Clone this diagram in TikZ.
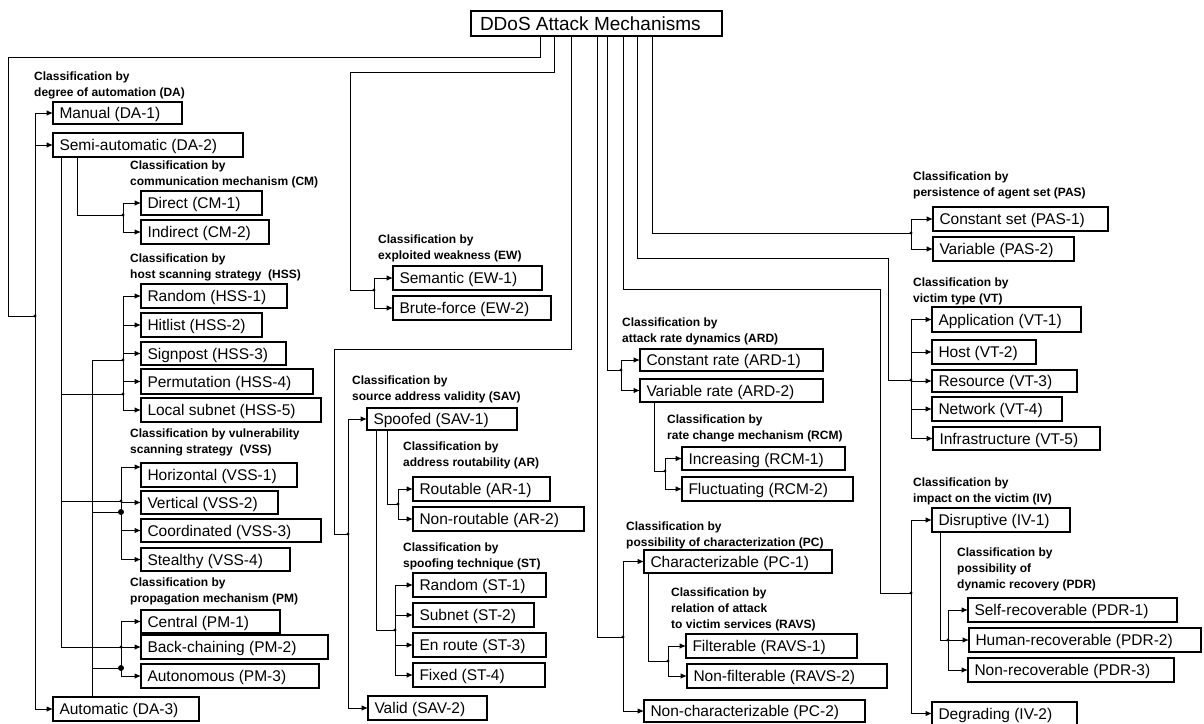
\documentclass[tikz,border=0pt]{standalone}
\usepackage{fontspec}
\setmainfont{Liberation Sans}
\usetikzlibrary{arrows.meta}
\tikzset{
 ln/.style={draw, line width=1pt},
 arr/.style={ln, -{Latex[length=6.5pt,width=5.5pt]}},
 bx/.style={draw, line width=1.3pt, inner xsep=6.5pt, inner ysep=0pt, outer sep=0pt, text height=11.1pt, text depth=0pt, font=\fontsize{15.5}{18}\selectfont},
 lbl/.style={anchor=north west, inner sep=0pt, align=left, font=\fontsize{12}{16}\selectfont\bfseries},
}
\newcommand\bx[6]{\node[bx, anchor=north west, minimum width={#4pt-#2pt}, minimum height={#5pt-#3pt}] (#1) at (#2,#3) {\makebox[\dimexpr #4pt-#2pt-13pt\relax][l]{#6}};}
\newcommand\sdot[1]{\fill (#1) circle (1.6pt);}
\newcommand\bdot[1]{\fill (#1) circle (3pt);}
\begin{document}
\begin{tikzpicture}[x=1pt,y=-1pt]
\useasboundingbox[fill=white] (0,0) rectangle (1204,723);
% title
\node[bx, anchor=north west, minimum width=251pt, minimum height=25pt, text height=13.6pt, inner xsep=9pt, font=\fontsize{19}{22}\selectfont] (title) at (471,11) {\makebox[233pt][l]{DDoS Attack Mechanisms}};
% boxes
\bx{manual}{53}{102}{182}{124}{Manual (DA-1)}
\bx{semi}{53}{133}{243}{157}{Semi-automatic (DA-2)}
\bx{auto}{53}{697}{199}{721}{Automatic (DA-3)}
\bx{direct}{141}{191}{262}{215}{Direct (CM-1)}
\bx{indirect}{141}{220}{269}{244}{Indirect (CM-2)}
\bx{hss1}{141}{284}{287}{308}{Random (HSS-1)}
\bx{hss2}{141}{313}{262}{337}{Hitlist (HSS-2)}
\bx{hss3}{141}{342}{286}{365}{Signpost (HSS-3)}
\bx{hss4}{141}{369}{313}{394}{Permutation (HSS-4)}
\bx{hss5}{141}{398}{321}{422}{Local subnet (HSS-5)}
\bx{vss1}{141}{463}{297}{487}{Horizontal (VSS-1)}
\bx{vss2}{141}{491}{278}{514}{Vertical (VSS-2)}
\bx{vss3}{141}{519}{321}{542}{Coordinated (VSS-3)}
\bx{vss4}{141}{548}{290}{571}{Stealthy (VSS-4)}
\bx{pm1}{141}{610}{280}{633}{Central (PM-1)}
\bx{pm2}{141}{635}{328}{659}{Back-chaining (PM-2)}
\bx{pm3}{141}{664}{319}{688}{Autonomous (PM-3)}
\bx{ew1}{393}{266}{542}{290}{Semantic (EW-1)}
\bx{ew2}{393}{296}{551}{320}{Brute-force (EW-2)}
\bx{sav1}{367}{408}{517}{430}{Spoofed (SAV-1)}
\bx{sav2}{368}{696}{487}{720}{Valid (SAV-2)}
\bx{ar1}{413}{477}{550}{501}{Routable (AR-1)}
\bx{ar2}{413}{507}{584}{531}{Non-routable (AR-2)}
\bx{st1}{413}{573}{546}{597}{Random (ST-1)}
\bx{st2}{413}{603}{534}{627}{Subnet (ST-2)}
\bx{st3}{413}{633}{546}{657}{En route (ST-3)}
\bx{st4}{413}{663}{545}{687}{Fixed (ST-4)}
\bx{ard1}{640}{349}{823}{371}{Constant rate (ARD-1)}
\bx{ard2}{640}{379}{823}{402}{Variable rate (ARD-2)}
\bx{rcm1}{682}{447}{845}{470}{Increasing (RCM-1)}
\bx{rcm2}{682}{477}{853}{501}{Fluctuating (RCM-2)}
\bx{pc1}{644}{550}{832}{573}{Characterizable (PC-1)}
\bx{ravs1}{686}{634}{857}{658}{Filterable (RAVS-1)}
\bx{ravs2}{687}{664}{887}{688}{Non-filterable (RAVS-2)}
\bx{pc2}{644}{700}{865}{722}{Non-characterizable (PC-2)}
\bx{pas1}{933}{207}{1108}{231}{Constant set (PAS-1)}
\bx{pas2}{933}{237}{1074}{261}{Variable (PAS-2)}
\bx{vt1}{932}{307}{1081}{332}{Application (VT-1)}
\bx{vt2}{932}{340}{1036}{364}{Host (VT-2)}
\bx{vt3}{932}{370}{1077}{392}{Resource (VT-3)}
\bx{vt4}{932}{397}{1062}{421}{Network (VT-4)}
\bx{vt5}{933}{427}{1100}{450}{Infrastructure (VT-5)}
\bx{iv1}{932}{508}{1070}{532}{Disruptive (IV-1)}
\bx{pdr1}{968}{598}{1177}{622}{Self-recoverable (PDR-1)}
\bx{pdr2}{969}{628}{1201}{652}{Human-recoverable (PDR-2)}
\bx{pdr3}{968}{658}{1174}{682}{Non-recoverable (PDR-3)}
\bx{iv2}{932}{702}{1077}{725}{Degrading (IV-2)}
% labels
\node[lbl] (lDA) at (34,72) {Classification by\\degree of automation (DA)};
\node[lbl] (lCM) at (130,161) {Classification by\\communication mechanism (CM)};
\node[lbl] (lHSS) at (130,254) {Classification by\\host scanning strategy~ (HSS)};
\node[lbl] (lVSS) at (130,429) {Classification by vulnerability\\scanning strategy~ (VSS)};
\node[lbl] (lPM) at (130,578) {Classification by\\propagation mechanism (PM)};
\node[lbl] (lEW) at (378,235) {Classification by\\exploited weakness (EW)};
\node[lbl] (lSAV) at (352,376) {Classification by\\source address validity (SAV)};
\node[lbl] (lAR) at (403,442) {Classification by\\address routability (AR)};
\node[lbl] (lST) at (403,543) {Classification by\\spoofing technique (ST)};
\node[lbl] (lARD) at (622,318) {Classification by\\attack rate dynamics (ARD)};
\node[lbl] (lRCM) at (667,415) {Classification by\\rate change mechanism (RCM)};
\node[lbl] (lPC) at (626,522) {Classification by\\possibility of characterization (PC)};
\node[lbl] (lRAVS) at (671,588) {Classification by\\relation of attack\\to victim services (RAVS)};
\node[lbl] (lPAS) at (913,172) {Classification by\\persistence of agent set (PAS)};
\node[lbl] (lVT) at (913,278) {Classification by\\victim type (VT)};
\node[lbl] (lIV) at (913,478) {Classification by\\impact on the victim (IV)};
\node[lbl] (lPDR) at (957,548) {Classification by\\possibility of\\dynamic recovery (PDR)};
% junction coordinates
\coordinate (cDA) at (8,57);
\coordinate (jDA) at (35,316);
\coordinate (tS) at ([xshift=8pt]semi.south west);
\coordinate (tA) at ([xshift=39pt]auto.north west);
\coordinate (jCM) at (123,215);
\coordinate (jHSSa) at (123,360);
\coordinate (jHSSs) at (123,394);
\coordinate (jVSSs) at (121,501);
\coordinate (jVSSa) at (121,512);
\coordinate (jPMa) at (121,668);
\coordinate (aV1) at ([yshift=8pt]vss1.west);
\coordinate (cEW) at (350,72);
\coordinate (jEW) at (374,290);
\coordinate (cSAV) at (334,349);
\coordinate (jSAV) at (348,534);
\coordinate (jAR) at (398,504);
\coordinate (jST) at (395,630);
\coordinate (jARD) at (621,370);
\coordinate (jRCM) at (665,471);
\coordinate (jPC) at (623,637);
\coordinate (jRAVS) at (668,661);
\coordinate (jPAS) at (911,233);
\coordinate (cVT) at (888,258);
\coordinate (jVT) at (911,380);
\coordinate (cIV) at (880,289);
\coordinate (jIV) at (911,593);
\coordinate (jPDR) at (948,640);
% DA
\draw[ln] ([xshift=69pt]title.south west) |- (cDA) |- (jDA);
\draw[ln] (jDA |- manual.west) -- (jDA |- auto.west);
\foreach \n in {manual,semi,auto} \draw[arr] (jDA |- \n.west) -- (\n.west);
% CM
\draw[ln] ([xshift=24pt]semi.south west) |- (jCM);
\draw[ln] (jCM |- direct.west) -- (jCM |- indirect.west);
\foreach \n in {direct,indirect} \draw[arr] (jCM |- \n.west) -- (\n.west);
% trunks
\draw[arr] (tS) |- (pm2.west);
\draw[ln] (tS |- jHSSs) -- (jHSSs);
\draw[ln] (tS |- jVSSs) -- (jVSSs);
\draw[ln] (tA) |- (jHSSa);
\draw[ln] (tA |- jVSSa) -- (jVSSa);
\draw[ln] (tA |- jPMa) -- (jPMa);
% HSS
\draw[ln] (jHSSa |- hss1.west) -- (jHSSa |- hss5.west);
\foreach \n in {hss1,hss2,hss3,hss4,hss5} \draw[arr] (jHSSa |- \n.west) -- (\n.west);
% VSS
\draw[ln] (jVSSa |- aV1) -- (jVSSa |- vss4.west);
\draw[arr] (jVSSa |- aV1) -- (aV1);
\foreach \n in {vss2,vss3,vss4} \draw[arr] (jVSSa |- \n.west) -- (\n.west);
% PM
\draw[ln] (jPMa |- pm1.west) -- (jPMa |- pm3.west);
\foreach \n in {pm1,pm3} \draw[arr] (jPMa |- \n.west) -- (\n.west);
% EW
\draw[ln] ([xshift=83pt]title.south west) |- (cEW) |- (jEW);
\draw[ln] (jEW |- ew1.west) -- (jEW |- ew2.west);
\foreach \n in {ew1,ew2} \draw[arr] (jEW |- \n.west) -- (\n.west);
% SAV
\draw[ln] ([xshift=100pt]title.south west) |- (cSAV) |- (jSAV);
\draw[ln] (jSAV |- sav1.west) -- (jSAV |- sav2.west);
\foreach \n in {sav1,sav2} \draw[arr] (jSAV |- \n.west) -- (\n.west);
% AR
\draw[ln] ([xshift=20pt]sav1.south west) |- (jAR);
\draw[ln] (jAR |- ar1.west) -- (jAR |- ar2.west);
\foreach \n in {ar1,ar2} \draw[arr] (jAR |- \n.west) -- (\n.west);
% ST
\draw[ln] ([xshift=9pt]sav1.south west) |- (jST);
\draw[ln] (jST |- st1.west) -- (jST |- st4.west);
\foreach \n in {st1,st2,st3,st4} \draw[arr] (jST |- \n.west) -- (\n.west);
% ARD
\draw[ln] ([xshift=136pt]title.south west) |- (jARD);
\draw[ln] (jARD |- ard1.west) -- (jARD |- ard2.west);
\foreach \n in {ard1,ard2} \draw[arr] (jARD |- \n.west) -- (\n.west);
% RCM
\draw[ln] ([xshift=14pt]ard2.south west) |- (jRCM);
\draw[ln] (jRCM |- rcm1.west) -- (jRCM |- rcm2.west);
\foreach \n in {rcm1,rcm2} \draw[arr] (jRCM |- \n.west) -- (\n.west);
% PC
\draw[ln] ([xshift=126pt]title.south west) |- (jPC);
\draw[ln] (jPC |- pc1.west) -- (jPC |- pc2.west);
\foreach \n in {pc1,pc2} \draw[arr] (jPC |- \n.west) -- (\n.west);
% RAVS
\draw[ln] ([xshift=4pt]pc1.south west) |- (jRAVS);
\draw[ln] (jRAVS |- ravs1.west) -- (jRAVS |- ravs2.west);
\foreach \n in {ravs1,ravs2} \draw[arr] (jRAVS |- \n.west) -- (\n.west);
% PAS
\draw[ln] ([xshift=181pt]title.south west) |- (jPAS);
\draw[ln] (jPAS |- pas1.west) -- (jPAS |- pas2.west);
\foreach \n in {pas1,pas2} \draw[arr] (jPAS |- \n.west) -- (\n.west);
% VT
\draw[ln] ([xshift=166pt]title.south west) |- (cVT) |- (jVT);
\draw[ln] (jVT |- vt1.west) -- (jVT |- vt5.west);
\foreach \n in {vt1,vt2,vt3,vt4,vt5} \draw[arr] (jVT |- \n.west) -- (\n.west);
% IV
\draw[ln] ([xshift=152pt]title.south west) |- (cIV) |- (jIV);
\draw[ln] (jIV |- iv1.west) -- (jIV |- iv2.west);
\foreach \n in {iv1,iv2} \draw[arr] (jIV |- \n.west) -- (\n.west);
% PDR
\draw[ln] ([xshift=8pt]iv1.south west) |- (jPDR);
\draw[ln] (jPDR |- pdr1.west) -- (jPDR |- pdr3.west);
\foreach \n in {pdr1,pdr2,pdr3} \draw[arr] (jPDR |- \n.west) -- (\n.west);
% dots
\sdot{jDA} \sdot{jCM} \sdot{jHSSa} \sdot{jHSSs} \sdot{jVSSs} \bdot{jVSSa}
\sdot{jPMa |- pm2.west} \bdot{jPMa}
\sdot{jEW} \sdot{jSAV} \sdot{jAR} \sdot{jST} \sdot{jARD} \sdot{jRCM}
\sdot{jPC} \sdot{jRAVS} \sdot{jPAS} \sdot{jVT} \sdot{jIV} \sdot{jPDR}
\end{tikzpicture}
\end{document}
